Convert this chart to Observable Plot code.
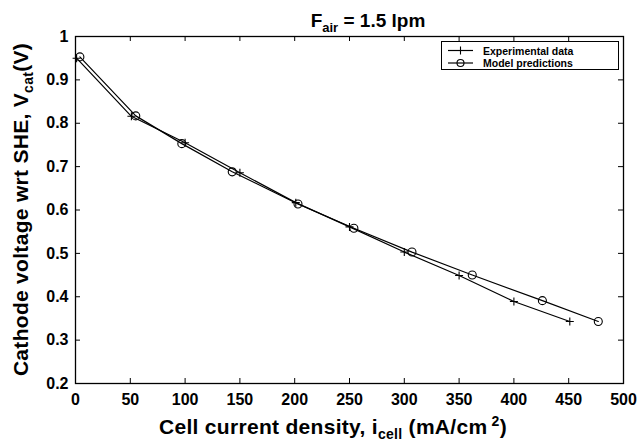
<!DOCTYPE html>
<html><head><meta charset="utf-8">
<script src="https://cdn.jsdelivr.net/npm/d3@7"></script>
<script src="https://cdn.jsdelivr.net/npm/@observablehq/plot@0.6"></script>
<style>body{margin:0;background:#fff} #chart{width:641px;height:442px}</style>
</head><body><div id="chart"></div>
<script>
// Data
const expX = [1, 51, 100, 150, 201, 250, 300, 350, 400, 451];
const expY = [0.950, 0.816, 0.755, 0.686, 0.617, 0.561, 0.503, 0.449, 0.389, 0.343];
const modX = [4, 55, 97, 143, 203, 254, 307, 362, 426, 477];
const modY = [0.953, 0.817, 0.753, 0.688, 0.614, 0.558, 0.503, 0.450, 0.391, 0.343];
const xTicks = [0, 50, 100, 150, 200, 250, 300, 350, 400, 450, 500];
const yTicks = [0.2, 0.3, 0.4, 0.5, 0.6, 0.7, 0.8, 0.9, 1.0];
const seriesNames = ["Experimental data", "Model predictions"];

const W = 641, H = 442, mt = 36, mb = 59, ml = 75, mr = 18;
const iw = W - ml - mr, ih = H - mt - mb;
const font = '"Liberation Sans", Arial, Helvetica, sans-serif';

const plusSym = {draw(ctx, size) {
  const r = Math.sqrt(size / Math.PI);
  ctx.moveTo(-r, 0); ctx.lineTo(r, 0); ctx.moveTo(0, -r); ctx.lineTo(0, r);
}};

const expData = expX.map((x, i) => ({x, y: expY[i]}));
const modData = modX.map((x, i) => ({x, y: modY[i]}));

const chart = Plot.plot({
  width: W, height: H,
  marginTop: mt, marginBottom: mb, marginLeft: ml, marginRight: mr,
  x: {domain: [0, 500]},
  y: {domain: [0.2, 1]},
  style: {fontFamily: font, background: "white", color: "black"},
  marks: [
    Plot.axisX(xTicks, {tickSize: 0, tickPadding: 10, fontSize: 16, fontWeight: "bold", label: null, tickFormat: d => String(d)}),
    Plot.axisY(yTicks, {tickSize: 0, tickPadding: 7, fontSize: 16, fontWeight: "bold", label: null, tickFormat: d => d === 1 ? "1" : d.toFixed(1)}),
    Plot.ruleX(xTicks, {x: d => d, insetTop: ih - 5, stroke: "black"}),
    Plot.ruleX(xTicks, {x: d => d, insetBottom: ih - 5, stroke: "black"}),
    Plot.ruleY(yTicks, {y: d => d, insetRight: iw - 5, stroke: "black"}),
    Plot.ruleY(yTicks, {y: d => d, insetLeft: iw - 5, stroke: "black"}),
    Plot.line(expData, {x: "x", y: "y", stroke: "black", strokeWidth: 1.2}),
    Plot.line(modData, {x: "x", y: "y", stroke: "black", strokeWidth: 1.2}),
    Plot.dot(expData, {x: "x", y: "y", symbol: plusSym, r: 4, stroke: "black", fill: "none", strokeWidth: 1.1}),
    Plot.dot(modData, {x: "x", y: "y", symbol: "circle", r: 4, stroke: "black", fill: "none", strokeWidth: 1.1}),
    Plot.frame({stroke: "black", strokeWidth: 1.3})
  ]
});
document.getElementById("chart").appendChild(chart);

const svg = d3.select(chart);
// Title
const t = svg.append("text").attr("x", 368).attr("y", 27).attr("text-anchor", "middle")
  .attr("font-family", font).attr("font-weight", "bold").attr("font-size", 19).attr("fill", "black");
t.append("tspan").text("F");
t.append("tspan").attr("font-size", 13).attr("dy", 5).text("air");
t.append("tspan").attr("dy", -5).text(" = 1.5 lpm");

// X label
const xl = svg.append("text").attr("x", 333).attr("y", 434).attr("text-anchor", "middle")
  .attr("font-family", font).attr("font-weight", "bold").attr("font-size", 21)
  .attr("letter-spacing", 0.3).attr("fill", "black");
xl.append("tspan").text("Cell current density, i");
xl.append("tspan").attr("font-size", 14).attr("dy", 5).text("cell");
xl.append("tspan").attr("dy", -5).text(" (mA/cm");
xl.append("tspan").attr("font-size", 14).attr("dy", -8).text(" 2");
xl.append("tspan").attr("dy", 8).text(")");

// Y label
const yl = svg.append("text").attr("transform", "translate(28,209.5) rotate(-90)").attr("text-anchor", "middle")
  .attr("font-family", font).attr("font-weight", "bold").attr("font-size", 21)
  .attr("letter-spacing", 0.3).attr("fill", "black");
yl.append("tspan").text("Cathode voltage wrt SHE, V");
yl.append("tspan").attr("font-size", 14).attr("dy", 5).text("cat");
yl.append("tspan").attr("dy", -5).text("(V)");

// Legend
const lg = svg.append("g");
lg.append("rect").attr("x", 441.5).attr("y", 41.5).attr("width", 177).attr("height", 28)
  .attr("fill", "white").attr("stroke", "black").attr("stroke-width", 1);
const rows = [50.5, 63];
rows.forEach((ry, i) => {
  lg.append("line").attr("x1", 448).attr("x2", 473).attr("y1", ry).attr("y2", ry).attr("stroke", "black").attr("stroke-width", 1.2);
  if (i === 0) {
    lg.append("path").attr("d", `M456.5,${ry}H464.5M460.5,${ry-4}V${ry+4}`).attr("stroke", "black").attr("stroke-width", 1.1);
  } else {
    lg.append("circle").attr("cx", 460.5).attr("cy", ry).attr("r", 3.5).attr("fill", "none").attr("stroke", "black").attr("stroke-width", 1.1);
  }
  lg.append("text").attr("x", 483).attr("y", ry + 4).attr("text-anchor", "start").attr("font-family", font).attr("font-weight", "bold")
    .attr("font-size", 10.5).attr("fill", "black").text(seriesNames[i]);
});
</script>
</body></html>
